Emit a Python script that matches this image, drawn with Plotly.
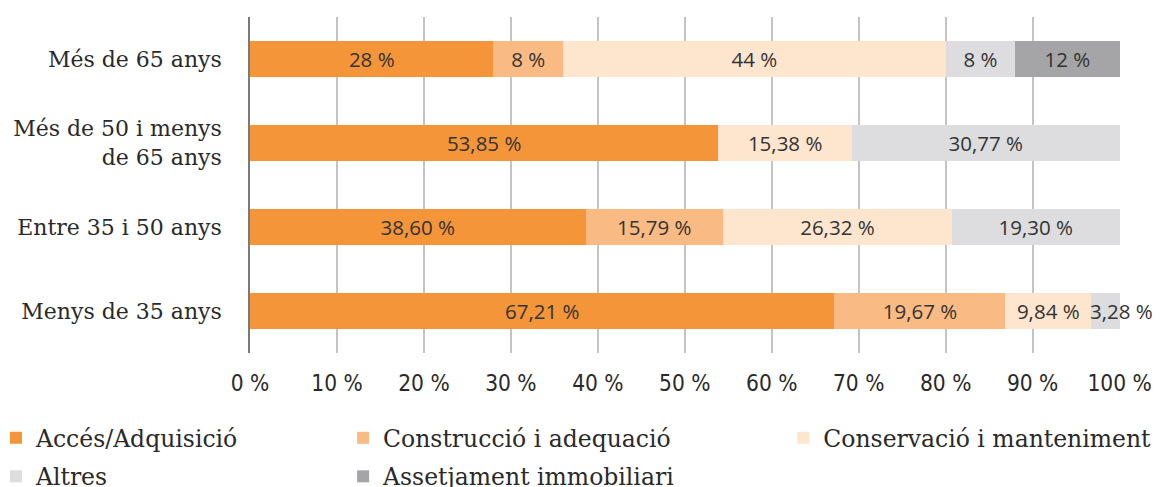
import plotly.graph_objects as go

categories = ["Menys de 35 anys", "Entre 35 i 50 anys", "Més de 50 i menys<br>de 65 anys", "Més de 65 anys"]
series_names = ["Accés/Adquisició", "Construcció i adequació", "Conservació i manteniment", "Altres", "Assetjament immobiliari"]
acces = [67.21, 38.60, 53.85, 28]
construccio = [19.67, 15.79, None, 8]
conservacio = [9.84, 26.32, 15.38, 44]
altres = [3.28, 19.30, 30.77, 8]
assetjament = [None, None, None, 12]
tick_vals = [0, 10, 20, 30, 40, 50, 60, 70, 80, 90, 100]
tick_text = ["0 %", "10 %", "20 %", "30 %", "40 %", "50 %", "60 %", "70 %", "80 %", "90 %", "100 %"]

colors = ["#F5953A", "#F9BB83", "#FDE5CE", "#DDDDDF", "#A5A5A8"]
legends = ["legend", "legend2", "legend3", "legend", "legend2"]
data = [acces, construccio, conservacio, altres, assetjament]


def fmt(v):
    if v is None:
        return ""
    if float(v).is_integer():
        return f"{int(v)} %"
    return f"{v:.2f}".replace(".", ",") + " %"


fig = go.Figure()
for name, vals, col, lg in zip(series_names, data, colors, legends):
    texts = [fmt(v) for v in vals]
    if name == "Altres":
        texts[0] = ""  # drawn as an annotation overflowing the thin bar
    fig.add_trace(go.Bar(
        y=categories, x=vals, name=name, orientation="h",
        marker=dict(color=col, line=dict(width=0)),
        text=texts, textposition="inside", insidetextanchor="middle",
        textfont=dict(family="Open Sans", size=20.5, color="#333333"),
        constraintext="none", cliponaxis=False,
        legend=lg, legendgroup=name, hoverinfo="skip",
    ))

# overflowing label of the small "Altres" segment in the first category
start_x = acces[0] + construccio[0] + conservacio[0]
fig.add_annotation(x=start_x, y=categories[0], xref="x", yref="y",
                   text=fmt(altres[0]), showarrow=False, xanchor="left",
                   xshift=-3, font=dict(family="Open Sans", size=20.5, color="#333333"))

legend_common = dict(
    orientation="v", yanchor="top", xanchor="left", traceorder="grouped",
    font=dict(family="DejaVu Serif", size=23.5, color="#2a2a2a"),
    bgcolor="rgba(0,0,0,0)", itemwidth=30, tracegroupgap=5,
    itemclick=False, itemdoubleclick=False,
)

fig.update_layout(
    barmode="stack",
    width=1153, height=479,
    margin=dict(l=242, r=41, t=9, b=134, autoexpand=False),
    paper_bgcolor="white", plot_bgcolor="white",
    bargap=0.56,
    xaxis=dict(range=[0, 100.05], tickvals=tick_vals, ticktext=tick_text,
               showgrid=True, gridcolor="#C4C4C4", gridwidth=1.5,
               zeroline=False, showline=False, ticks="", ticklabelstandoff=14,
               tickfont=dict(family="DejaVu Sans Condensed", size=22.5, color="#2a2a2a")),
    yaxis=dict(range=[-0.5, 3.5], showline=True, linecolor="#7a7a7a", linewidth=1.5,
               ticks="", ticklabelstandoff=22,
               tickfont=dict(family="DejaVu Serif", size=22, color="#2a2a2a")),
    legend=dict(x=-0.292, y=-0.1875, **legend_common),
    legend2=dict(x=0.107, y=-0.1875, **legend_common),
    legend3=dict(x=0.613, y=-0.1875, **legend_common),
    showlegend=True,
)

fig.write_html("out.html")
